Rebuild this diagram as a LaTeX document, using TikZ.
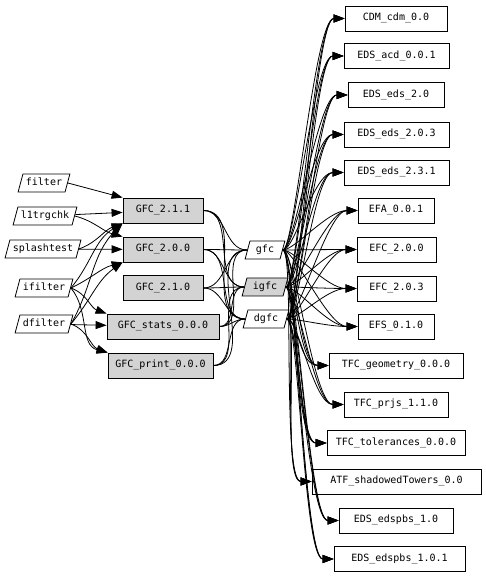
\documentclass[tikz,border=0pt]{standalone}
\usepackage{fontspec}
\setmonofont{DejaVu Sans Mono}
\usepackage{xcolor}
\usepackage{tikz}
\usetikzlibrary{arrows.meta,shapes.geometric}
\definecolor{pkggray}{RGB}{211,211,211}

\begin{document}
\begin{tikzpicture}[
        x=1pt, y=1pt,
        font=\ttfamily\fontsize{10}{12}\selectfont,
        line width=0.8pt,
        box/.style={draw, minimum height=25pt, inner xsep=0pt, text height=7.5pt, text depth=2.5pt},
        pkg/.style={box, fill=pkggray},
        dep/.style={box, fill=white},
        tool/.style={draw, trapezium, trapezium left angle=75, trapezium right angle=105,
            inner xsep=3pt, inner ysep=4pt, text height=7.5pt, text depth=2.5pt},
        lib/.style={tool, inner xsep=6pt},
        arr/.style={-{Triangle[length=11pt,width=8pt]}},
        link/.style={out=0, in=180}
    ]
        \useasboundingbox (0,0) rectangle (485,576);
        % tools on the left
        \node[tool] (filter) at (44,393) {filter};
        \node[tool] (l1trgchk) at (45,360) {l1trgchk};
        \node[tool] (splashtest) at (43,327) {splashtest};
        \node[tool] (ifilter) at (44,288) {ifilter};
        \node[tool] (dfilter) at (44,252) {dfilter};
        % GFC packages
        \node[pkg, minimum width=80pt] (gfc211) at (163,365.5) {GFC\_2.1.1};
        \node[pkg, minimum width=80pt] (gfc200) at (163,326.5) {GFC\_2.0.0};
        \node[pkg, minimum width=80pt] (gfc210) at (163,288) {GFC\_2.1.0};
        \node[pkg, minimum width=112pt] (gfcstats) at (163,249.5) {GFC\_stats\_0.0.0};
        \node[pkg, minimum width=105pt] (gfcprint) at (160.5,210.5) {GFC\_print\_0.0.0};
        % libraries
        \node[lib] (gfc) at (265,326) {gfc};
        \node[lib, fill=pkggray] (igfc) at (265,289) {igfc};
        \node[lib] (dgfc) at (266,257) {dgfc};
        % dependencies on the right
        \node[dep, minimum width=102pt] (cdm) at (396,557.5) {CDM\_cdm\_0.0};
        \node[dep, minimum width=105pt] (edsacd) at (396.5,520) {EDS\_acd\_0.0.1};
        \node[dep, minimum width=96pt] (edseds20) at (396,481) {EDS\_eds\_2.0};
        \node[dep, minimum width=105pt] (edseds203) at (396.5,441.5) {EDS\_eds\_2.0.3};
        \node[dep, minimum width=105pt] (edseds231) at (396.5,403.5) {EDS\_eds\_2.3.1};
        \node[dep, minimum width=76pt] (efa) at (396,365.5) {EFA\_0.0.1};
        \node[dep, minimum width=79pt] (efc200) at (396.5,326.5) {EFC\_2.0.0};
        \node[dep, minimum width=79pt] (efc203) at (396.5,287.5) {EFC\_2.0.3};
        \node[dep, minimum width=76pt] (efs) at (396,249.5) {EFS\_0.1.0};
        \node[dep, minimum width=134pt] (tfcgeo) at (396,210.5) {TFC\_geometry\_0.0.0};
        \node[dep, minimum width=104pt] (tfcprjs) at (396,171.5) {TFC\_prjs\_1.1.0};
        \node[dep, minimum width=138pt] (tfctol) at (396,133) {TFC\_tolerances\_0.0.0};
        \node[dep, minimum width=169pt] (atf) at (396.5,94.5) {ATF\_shadowedTowers\_0.0};
        \node[dep, minimum width=114pt] (edspbs10) at (396,55.5) {EDS\_edspbs\_1.0};
        \node[dep, minimum width=131pt] (edspbs101) at (399.5,17) {EDS\_edspbs\_1.0.1};
        % tools -> packages
        \draw[arr] (filter.east) -- (gfc211.north west);
        \draw[arr] (l1trgchk) -- (gfc211);
        \draw[arr] (l1trgchk.east) to[out=-15, in=165] (gfc200.north west);
        \draw[arr] (splashtest.east) to[out=20, in=200] (gfc211.south west);
        \draw[arr] (splashtest) -- (gfc200);
        \draw[arr] (ifilter.east) to[out=50, in=210] (gfc211.south west);
        \draw[arr] (ifilter.east) to[out=25, in=195] (gfc200.south west);
        \draw[arr] (ifilter.east) to[out=-20, in=160] (gfcstats.north west);
        \draw[arr] (ifilter.east) to[out=-50, in=165] (gfcprint.north west);
        \draw[arr] (dfilter.east) to[out=60, in=225] (gfc211.south west);
        \draw[arr] (dfilter.east) to[out=50, in=215] (gfc200.south west);
        \draw[arr] (dfilter) -- (gfcstats);
        \draw[arr] (dfilter.east) to[out=-20, in=160] (gfcprint.north west);
        % packages -- libraries
        \foreach \p in {gfc211,gfc200,gfc210,gfcstats,gfcprint}
            \foreach \l in {gfc,igfc,dgfc}
                \draw (\p.east) to[link] (\l.west);
        % libraries -> dependencies
        \foreach \l in {gfc,igfc,dgfc}
            \foreach \d in {cdm,edsacd,edseds20,edseds203,edseds231,efa,efc200,efc203,
                    efs,tfcgeo,tfcprjs,tfctol,atf,edspbs10,edspbs101}
                \draw[arr] (\l.east) to[link, out distance=12pt, in distance=30pt] (\d.west);
    \end{tikzpicture}
\end{document}
